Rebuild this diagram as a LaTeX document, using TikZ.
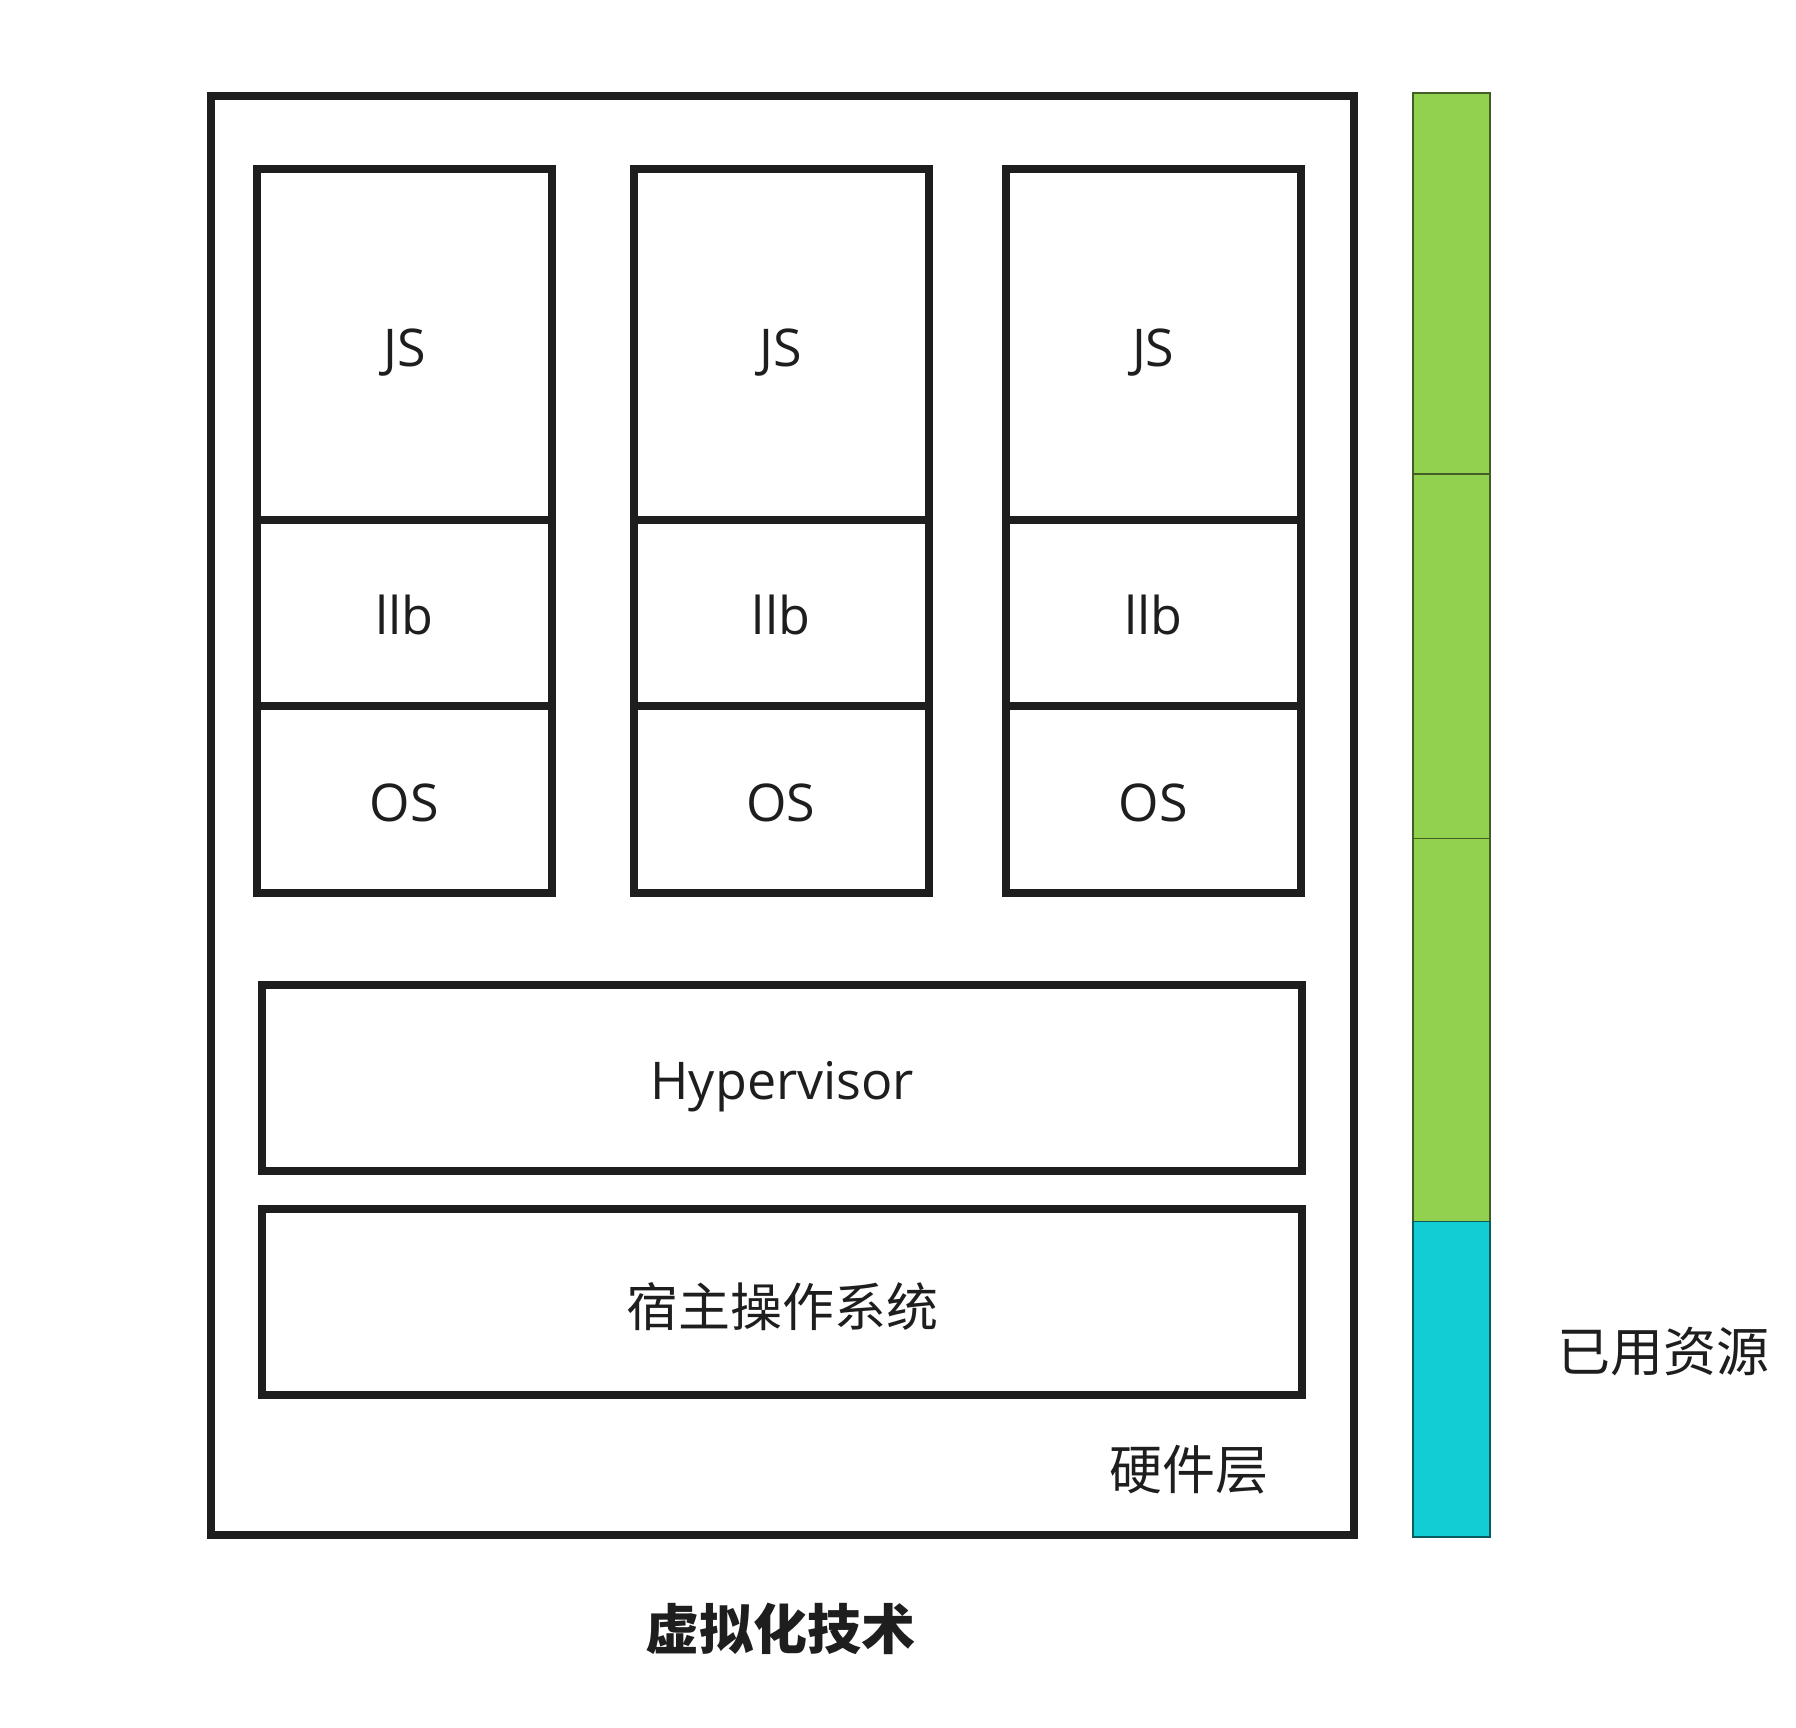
\documentclass[tikz,border=0pt]{standalone}
\usepackage{fontspec}
\setmainfont{Open Sans}
\newfontfamily\cjk{Noto Sans CJK SC}
\definecolor{ink}{HTML}{1E1E1E}
\definecolor{barGreen}{HTML}{92D050}
\definecolor{barCyan}{HTML}{12CDD4}
\begin{document}
\begin{tikzpicture}[x=1pt,y=-1pt,
  cell/.style={draw=ink, line width=8pt, inner sep=0pt, text=ink,
    font=\fontsize{52}{60}\selectfont, text height=54pt, text depth=10.8pt},
  wide/.style={cell, minimum width=1040pt, minimum height=185.6pt},
  col/.style={cell, minimum width=295pt},
  seg/.style={line width=1.5pt, inner sep=0pt, minimum width=77pt},
  lbl/.style={inner sep=0pt, text=ink, font=\cjk\fontsize{53}{62}\selectfont}]
\useasboundingbox (0,0) rectangle (1796,1728);
\fill[white] (0,0) rectangle (1796,1728);
% outer hardware box
\node[cell, minimum width=1143pt, minimum height=1438.5pt] (outer) at (782.5,815.75) {};
% three columns
\foreach \i/\cx in {1/404.5, 2/781, 3/1153.3} {
  \node[col, minimum height=350.5pt] (js\i) at (\cx,344.75) {JS};
  \node[col, minimum height=185.6pt] (lib\i) at (\cx,612.8) {llb};
  \node[col, minimum height=187.8pt] (os\i) at (\cx,799.5) {OS};
}
\node[wide] (hyp) at (782.3,1077.8) {Hypervisor};
\node[wide, font=\cjk\fontsize{52}{60}\selectfont, text height=52pt, text depth=3.1pt] (host) at (782.3,1302.25) {宿主操作系统};
\node[lbl] (hw) at (1189,1470) {硬件层};
\node[lbl, font=\cjk\bfseries\fontsize{54}{62}\selectfont] (title) at (780,1629) {虚拟化技术};
% resource bar
\node[seg, fill=barGreen, draw=barGreen!45!black, minimum height=381.2pt] (g1) at (1451.5,283.4) {};
\node[seg, fill=barGreen, draw=barGreen!45!black, minimum height=364.4pt] (g2) at (1451.5,656.2) {};
\node[seg, fill=barGreen, draw=barGreen!45!black, minimum height=383.3pt] (g3) at (1451.5,1030.05) {};
\node[seg, fill=barCyan, draw=barCyan!45!black, minimum height=315.3pt] (c1) at (1451.5,1379.35) {};
\node[lbl] (used) at (1663,1352) {已用资源};
\end{tikzpicture}
\end{document}
